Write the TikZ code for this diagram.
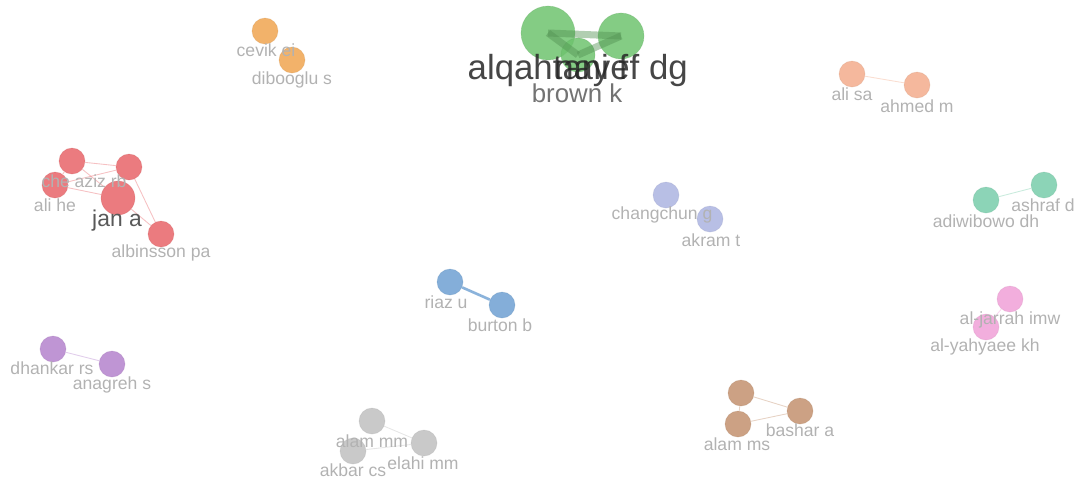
\documentclass[tikz,border=0pt]{standalone}
\usepackage{fontspec}
\setmainfont{Liberation Sans}
\usetikzlibrary{positioning}
\definecolor{vosred}{RGB}{232,100,104}
\definecolor{vosgreen}{RGB}{110,195,110}
\definecolor{vosorange}{RGB}{240,165,80}
\definecolor{vossalmon}{RGB}{243,172,140}
\definecolor{voslav}{RGB}{172,180,225}
\definecolor{vosteal}{RGB}{120,205,170}
\definecolor{vosblue}{RGB}{110,160,210}
\definecolor{vospink}{RGB}{240,160,215}
\definecolor{vospurple}{RGB}{180,130,205}
\definecolor{vosgray}{RGB}{192,192,192}
\definecolor{vosbrown}{RGB}{195,145,110}
\definecolor{lblgray}{RGB}{178,178,178}
\tikzset{
  author/.style={circle, inner sep=0pt, minimum size=0.52cm, fill=#1, fill opacity=0.85, draw=#1!85!black, draw opacity=0.25},
  link/.style={draw=#1, opacity=0.4, line width=0.5pt},
  lbl/.style={text=lblgray, font=\fontsize{10}{11}\selectfont, inner sep=0pt},
}
\begin{document}
\begin{tikzpicture}[x=0.02cm, y=-0.02cm]
  \useasboundingbox (0,0) rectangle (1084,478);

  % Green cluster
  \node[author=vosgreen, minimum size=1.08cm] (alq) at (548,33) {};
  \node[author=vosgreen, minimum size=0.92cm] (nay) at (621,36) {};
  \node[author=vosgreen, minimum size=0.68cm] (brown) at (578,55) {};
  \draw[vosgreen!75!black, line width=4pt, opacity=0.45] (alq.center) -- (nay.center);
  \draw[vosgreen!75!black, line width=4pt, opacity=0.45] (alq.center) -- (brown.center);
  \draw[vosgreen!75!black, line width=4pt, opacity=0.45] (nay.center) -- (brown.center);
  \node[text=black!85, font=\fontsize{19.8}{20}\selectfont, inner sep=0pt, opacity=0.85] (alqlbl) at (548,70) {alqahtani f};
  \node[text=black!85, font=\fontsize{19.8}{20}\selectfont, inner sep=0pt, opacity=0.85] (naylbl) at (621,70) {nayef dg};
  \node[text=black!55, font=\fontsize{14.7}{15}\selectfont, inner sep=0pt] (brownlbl) at (577,93) {brown k};

  % Orange cluster
  \node[author=vosorange] (cevik) at (265,31) {};
  \node[author=vosorange] (dibo) at (292,60) {};
  \node[lbl] at (266,50) {cevik ei};
  \node[lbl] at (292,80) {dibooglu s};

  % Salmon cluster
  \node[author=vossalmon] (alisa) at (852,74) {};
  \node[author=vossalmon] (ahmed) at (917,85) {};
  \draw[link=vossalmon] (alisa) -- (ahmed);
  \node[lbl] at (852,94) {ali sa};
  \node[lbl] at (917,106) {ahmed m};

  % Red cluster
  \node[author=vosred] (cheaziz) at (72,161) {};
  \node[author=vosred] (redb) at (129,167) {};
  \node[author=vosred] (alihe) at (55,185) {};
  \node[author=vosred, minimum size=0.68cm] (jan) at (118,198) {};
  \node[author=vosred] (albin) at (161,234) {};
  \draw[link=vosred] (cheaziz) -- (redb);
  \draw[link=vosred] (cheaziz) -- (alihe);
  \draw[link=vosred] (cheaziz) -- (jan);
  \draw[link=vosred] (alihe) -- (redb);
  \draw[link=vosred] (alihe) -- (jan);
  \draw[link=vosred] (redb) -- (jan);
  \draw[link=vosred] (jan) -- (albin);
  \draw[link=vosred] (redb) -- (albin);
  \node[lbl] at (84,181) {che aziz rb};
  \node[lbl] at (55,205) {ali he};
  \node[text=black!65, font=\fontsize{13}{14}\selectfont, inner sep=0pt] at (117,221) {jan a};
  \node[lbl] at (161,253) {albinsson pa};

  % Lavender cluster
  \node[author=voslav] (chang) at (666,195) {};
  \node[author=voslav] (akram) at (710,219) {};
  \node[lbl] at (662,215) {changchun g};
  \node[lbl] at (711,240) {akram t};

  % Teal cluster
  \node[author=vosteal] (adiwi) at (986,200) {};
  \node[author=vosteal] (ashraf) at (1044,185) {};
  \draw[link=vosteal] (adiwi) -- (ashraf);
  \node[lbl] at (986,221) {adiwibowo dh};
  \node[lbl] at (1043,205) {ashraf d};

  % Blue cluster
  \node[author=vosblue] (riaz) at (450,282) {};
  \node[author=vosblue] (burton) at (502,305) {};
  \draw[vosblue, line width=1.5pt, opacity=0.8] (riaz) -- (burton);
  \node[lbl] at (446,302) {riaz u};
  \node[lbl] at (500,325) {burton b};

  % Pink cluster
  \node[author=vospink] (jarrah) at (1010,299) {};
  \node[author=vospink] (yahya) at (986,327) {};
  \draw[link=vospink] (jarrah) -- (yahya);
  \node[lbl] at (1010,320) {al-jarrah imw};
  \node[lbl] at (985,347) {al-yahyaee kh};

  % Purple cluster
  \node[author=vospurple] (dhank) at (53,349) {};
  \node[author=vospurple] (anag) at (112,364) {};
  \draw[link=vospurple] (dhank) -- (anag);
  \node[lbl] at (52,368) {dhankar rs};
  \node[lbl] at (112,385) {anagreh s};

  % Gray cluster
  \node[author=vosgray] (alammm) at (372,421) {};
  \node[author=vosgray] (elahi) at (424,443) {};
  \node[author=vosgray] (akbar) at (353,451) {};
  \draw[link=vosgray] (alammm) -- (elahi);
  \draw[link=vosgray] (akbar) -- (elahi);
  \node[lbl] at (372,441) {alam mm};
  \node[lbl] at (423,463) {elahi mm};
  \node[lbl] at (353,470) {akbar cs};

  % Brown cluster
  \node[author=vosbrown] (brtop) at (741,393) {};
  \node[author=vosbrown] (bashar) at (800,411) {};
  \node[author=vosbrown] (alamms) at (738,424) {};
  \draw[link=vosbrown] (brtop) -- (bashar);
  \draw[link=vosbrown] (alamms) -- (bashar);
  \draw[link=vosbrown] (brtop) -- (alamms);
  \node[lbl] at (800,430) {bashar a};
  \node[lbl] at (737,444) {alam ms};
\end{tikzpicture}
\end{document}
